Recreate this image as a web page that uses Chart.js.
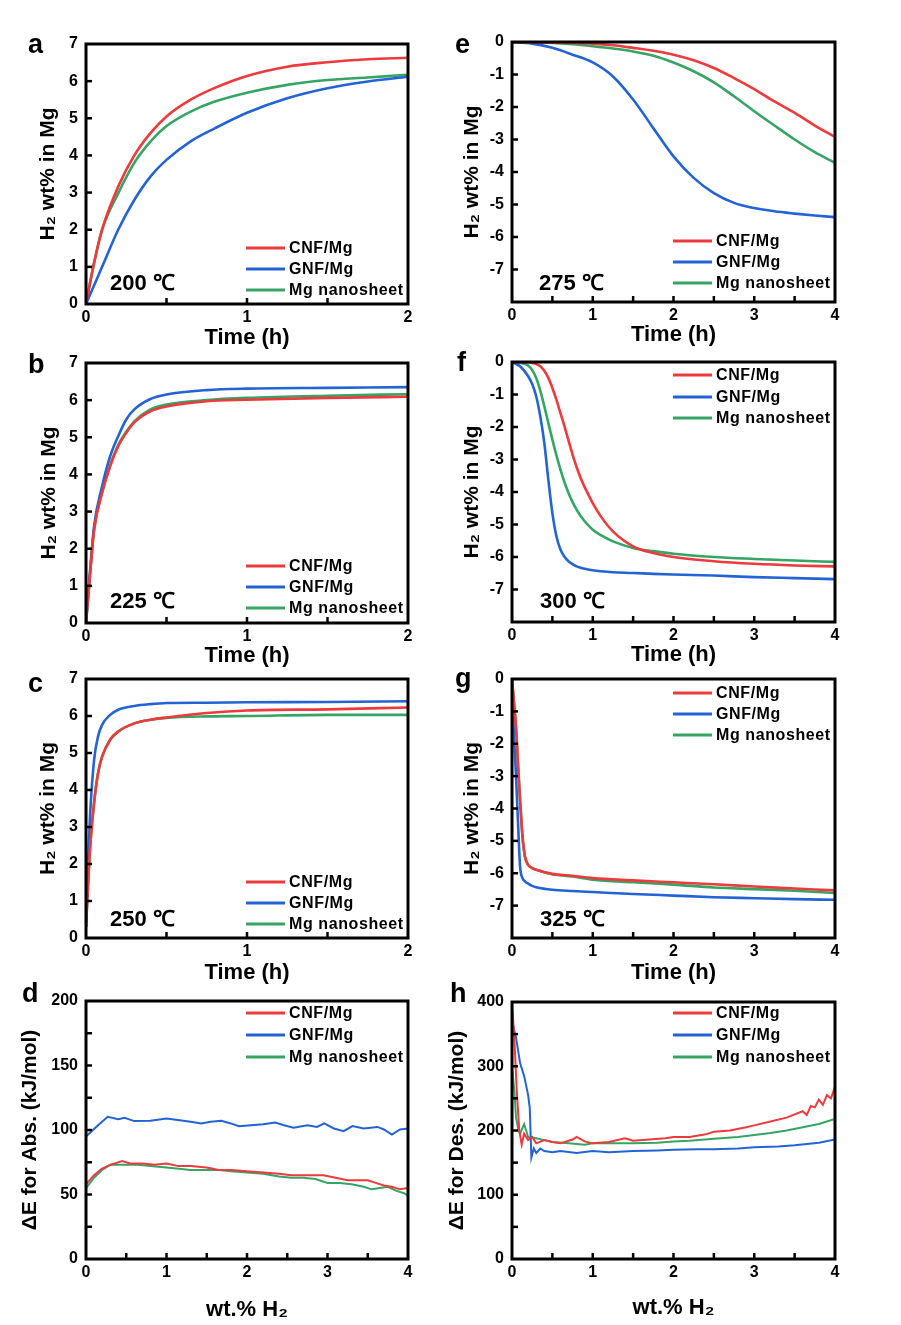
<!DOCTYPE html>
<html><head><meta charset="utf-8">
<script src="https://cdn.jsdelivr.net/npm/chart.js@4.4.0/dist/chart.umd.min.js"></script>
<style>
html,body{margin:0;padding:0;background:#fff;}
body{width:901px;height:1325px;position:relative;overflow:hidden;}
canvas{position:absolute;}
</style></head><body>
<script>
// ---------- series names / colours ----------
const seriesNames = ['CNF/Mg', 'GNF/Mg', 'Mg nanosheet'];
const seriesColors = ['#EC3A3D', '#2363D3', '#35A465'];

// ---------- (a) 200 °C absorption ----------
const aTime = [0, 0.05, 0.1, 0.2, 0.3, 0.4, 0.5, 0.65, 0.8, 1.0, 1.25, 1.5, 1.75, 2.0];
const aCNF  = [0, 1.1, 2.0, 3.16, 4.0, 4.6, 5.05, 5.5, 5.82, 6.14, 6.39, 6.51, 6.59, 6.63];
const aGNF  = [0, 0.5, 1.0, 2.0, 2.8, 3.43, 3.88, 4.38, 4.73, 5.15, 5.54, 5.81, 5.99, 6.12];
const aMg   = [0, 1.1, 2.0, 2.98, 3.8, 4.37, 4.79, 5.18, 5.45, 5.69, 5.9, 6.03, 6.1, 6.17];

// ---------- (b) 225 °C absorption ----------
const bTime = [0, 0.025, 0.05, 0.1, 0.15, 0.2, 0.25, 0.3, 0.4, 0.5, 0.75, 1.0, 1.5, 2.0];
const bCNF  = [0, 1.3, 2.5, 3.5, 4.22, 4.76, 5.12, 5.4, 5.7, 5.83, 5.97, 6.01, 6.06, 6.09];
const bGNF  = [0, 1.4, 2.6, 3.68, 4.49, 5.03, 5.48, 5.75, 6.03, 6.15, 6.27, 6.31, 6.33, 6.35];
const bMg   = [0, 1.3, 2.5, 3.52, 4.25, 4.79, 5.15, 5.43, 5.75, 5.88, 6.0, 6.06, 6.12, 6.16];

// ---------- (c) 250 °C absorption ----------
const cTime = [0, 0.0125, 0.025, 0.05, 0.075, 0.1, 0.15, 0.2, 0.3, 0.4, 0.5, 0.75, 1.0, 1.5, 2.0];
const cCNF  = [0.3, 1.4, 2.4, 3.64, 4.46, 4.9, 5.36, 5.58, 5.8, 5.9, 5.96, 6.08, 6.15, 6.18, 6.23];
const cGNF  = [0.3, 2.0, 3.3, 4.8, 5.45, 5.76, 6.03, 6.17, 6.27, 6.32, 6.35, 6.36, 6.37, 6.38, 6.4];
const cMg   = [0.3, 1.4, 2.4, 3.64, 4.46, 4.9, 5.36, 5.58, 5.8, 5.9, 5.95, 5.99, 6.0, 6.03, 6.03];

// ---------- (d) activation energy, absorption ----------
const dCNFx = [0, 0.1, 0.2, 0.3, 0.45, 0.55, 0.7, 0.85, 1.0, 1.15, 1.3, 1.5, 1.65, 1.8, 2.0, 2.2, 2.4, 2.55, 2.7, 2.85, 2.95, 3.1, 3.25, 3.4, 3.5, 3.6, 3.7, 3.8, 3.9, 4.0];
const dCNFy = [58, 65, 70, 73, 76, 74, 74, 73, 74, 72, 72, 71, 69, 69, 68, 67, 66, 65, 65, 65, 65, 63, 61, 61, 61, 59, 57, 56, 54, 55];
const dGNFx = [0, 0.15, 0.27, 0.4, 0.48, 0.6, 0.8, 1.0, 1.14, 1.3, 1.43, 1.55, 1.68, 1.8, 1.9, 2.05, 2.2, 2.35, 2.46, 2.58, 2.75, 2.87, 2.96, 3.08, 3.2, 3.31, 3.45, 3.62, 3.7, 3.8, 3.9, 4.0];
const dGNFy = [95, 103.7, 110.2, 108.4, 109.5, 106.9, 107.2, 109, 107.7, 106.4, 105.1, 106.4, 107.2, 105.1, 103, 103.7, 104.5, 105.8, 103.7, 101.7, 103.7, 102.4, 105.1, 101.2, 99.1, 103, 101.2, 102.4, 100.4, 96.5, 100.4, 101.2];
const dMgx  = [0, 0.1, 0.2, 0.3, 0.4, 0.5, 0.65, 0.8, 1.0, 1.15, 1.3, 1.5, 1.65, 1.8, 2.0, 2.2, 2.4, 2.55, 2.7, 2.85, 3.0, 3.15, 3.3, 3.45, 3.55, 3.65, 3.75, 3.85, 3.95, 4.0];
const dMgy  = [55, 63, 69, 73, 73, 73, 73, 72, 71, 70, 69, 69, 69, 68, 67, 66, 64, 63, 63, 62, 59, 59, 58, 56, 54, 55, 56, 53, 51, 49];

// ---------- (e) 275 °C desorption ----------
const eTime = [0, 0.25, 0.5, 0.75, 1.0, 1.25, 1.5, 1.75, 2.0, 2.25, 2.5, 2.75, 3.0, 3.25, 3.5, 3.75, 4.0];
const eCNF  = [0, -0.01, -0.02, -0.03, -0.05, -0.1, -0.18, -0.27, -0.39, -0.56, -0.8, -1.11, -1.45, -1.83, -2.18, -2.57, -2.92];
const eGNF  = [0, -0.05, -0.18, -0.39, -0.63, -1.06, -1.77, -2.65, -3.52, -4.18, -4.65, -4.95, -5.11, -5.21, -5.28, -5.34, -5.39];
const eMg   = [0, -0.01, -0.03, -0.07, -0.13, -0.2, -0.29, -0.42, -0.63, -0.9, -1.24, -1.67, -2.13, -2.57, -3.0, -3.39, -3.72];

// ---------- (f) 300 °C desorption ----------
const fTime = [0, 0.1, 0.2, 0.25, 0.3, 0.35, 0.4, 0.45, 0.5, 0.55, 0.6, 0.65, 0.7, 0.75, 0.8, 0.85, 0.9, 1.0, 1.1, 1.25, 1.5, 1.75, 2.0, 2.5, 3.0, 3.5, 4.0];
const fCNF  = [0, 0, -0.01, -0.03, -0.06, -0.13, -0.27, -0.49, -0.8, -1.16, -1.57, -1.98, -2.42, -2.85, -3.23, -3.57, -3.85, -4.34, -4.75, -5.21, -5.67, -5.88, -6.0, -6.13, -6.21, -6.26, -6.29];
const fGNF  = [0, -0.13, -0.44, -0.68, -1.06, -1.67, -2.49, -3.62, -4.65, -5.36, -5.77, -5.99, -6.13, -6.22, -6.29, -6.33, -6.36, -6.41, -6.44, -6.47, -6.49, -6.52, -6.54, -6.57, -6.62, -6.65, -6.68];
const fMg   = [0, -0.02, -0.11, -0.25, -0.49, -0.88, -1.36, -1.88, -2.39, -2.87, -3.31, -3.7, -4.03, -4.31, -4.54, -4.74, -4.9, -5.16, -5.33, -5.52, -5.72, -5.82, -5.9, -6.0, -6.06, -6.11, -6.15];

// ---------- (g) 325 °C desorption ----------
const gTime = [0, 0.02, 0.05, 0.08, 0.1, 0.13, 0.16, 0.2, 0.25, 0.3, 0.5, 0.75, 1.0, 1.5, 2.0, 2.5, 3.0, 3.5, 4.0];
const gCNF  = [0, -0.6, -1.5, -2.9, -3.73, -4.86, -5.48, -5.74, -5.84, -5.89, -6.02, -6.08, -6.15, -6.22, -6.28, -6.34, -6.41, -6.47, -6.53];
const gGNF  = [0, -1.5, -3.0, -4.76, -5.79, -6.15, -6.25, -6.32, -6.39, -6.43, -6.51, -6.55, -6.58, -6.64, -6.69, -6.74, -6.77, -6.8, -6.82];
const gMg   = [0, -0.6, -1.5, -2.9, -3.73, -4.86, -5.48, -5.74, -5.84, -5.89, -6.03, -6.1, -6.2, -6.28, -6.35, -6.44, -6.49, -6.54, -6.61];

// ---------- (h) activation energy, desorption ----------
const hCNFx = [0, 0.03, 0.06, 0.09, 0.12, 0.15, 0.2, 0.25, 0.3, 0.4, 0.5, 0.6, 0.75, 0.8, 0.9, 1.0, 1.2, 1.4, 1.5, 1.7, 1.9, 2.0, 2.2, 2.4, 2.5, 2.7, 2.9, 3.0, 3.2, 3.4, 3.5, 3.6, 3.65, 3.7, 3.75, 3.8, 3.85, 3.9, 3.95, 4.0];
const hCNFy = [400, 340, 260, 200, 178, 195, 185, 190, 180, 185, 182, 180, 186, 190, 183, 180, 182, 188, 184, 186, 188, 190, 190, 194, 198, 200, 205, 208, 214, 220, 225, 230, 224, 238, 236, 248, 240, 255, 250, 268];
const hGNFx = [0, 0.05, 0.1, 0.15, 0.2, 0.22, 0.24, 0.27, 0.3, 0.35, 0.4, 0.5, 0.6, 0.8, 1.0, 1.2, 1.5, 1.8, 2.0, 2.3, 2.5, 2.8, 3.0, 3.3, 3.5, 3.8, 4.0];
const hGNFy = [370, 345, 305, 285, 255, 235, 158, 172, 165, 172, 168, 166, 168, 165, 168, 166, 168, 169, 170, 171, 171, 172, 174, 175, 177, 181, 186];
const hMgx  = [0, 0.03, 0.05, 0.08, 0.1, 0.15, 0.2, 0.3, 0.4, 0.5, 0.7, 0.9, 1.0, 1.2, 1.5, 1.8, 2.0, 2.2, 2.5, 2.8, 3.0, 3.2, 3.4, 3.6, 3.8, 4.0];
const hMgy  = [300, 260, 220, 200, 195, 210, 190, 188, 185, 182, 180, 178, 180, 180, 180, 181, 183, 184, 187, 190, 193, 196, 200, 205, 210, 218];

// ---------- axis / label text ----------
const yTitleWt = 'H\u2082 wt% in Mg';
const xTitleTime = 'Time (h)';
const yTitleAbs = '\u0394E for Abs. (kJ/mol)';
const yTitleDes = '\u0394E for Des. (kJ/mol)';
const xTitleWt = 'wt.% H\u2082';
const tempLabels = ['200 \u2103', '225 \u2103', '250 \u2103', '275 \u2103', '300 \u2103', '325 \u2103'];

Chart.defaults.font.family = "'Liberation Sans', Arial, sans-serif";
Chart.defaults.color = '#000';

const zip = (xs, ys) => xs.map((v, i) => ({x: v, y: ys[i]}));

const panels = [
  {id:'a', col:0, plot:[86,44,408,304], xmax:2, ymin:0, ymax:7, yStep:1, yTick:1, series:[zip(aTime,aCNF),zip(aTime,aGNF),zip(aTime,aMg)],
   legend:'bottom', legOff:[-56,-35,-14], temp:tempLabels[0], tempDY:-14, tempDX:24, yTitle:yTitleWt, yTitleX:48, xTitle:xTitleTime, xTitleDY:34, letter:'a', lx:28, ly:53, smooth:true},
  {id:'b', col:0, plot:[86,363,408,623], xmax:2, ymin:0, ymax:7, yStep:1, yTick:1, series:[zip(bTime,bCNF),zip(bTime,bGNF),zip(bTime,bMg)],
   legend:'bottom', legOff:[-57,-36,-15], temp:tempLabels[1], tempDY:-15, tempDX:24, yTitle:yTitleWt, yTitleX:49, xTitle:xTitleTime, xTitleDY:33, letter:'b', lx:28, ly:373, smooth:true},
  {id:'c', col:0, plot:[86,679,408,938], xmax:2, ymin:0, ymax:7, yStep:1, yTick:1, series:[zip(cTime,cCNF),zip(cTime,cGNF),zip(cTime,cMg)],
   legend:'bottom', legOff:[-56,-35,-14], temp:tempLabels[2], tempDY:-12, tempDX:24, yTitle:yTitleWt, yTitleX:48, xTitle:xTitleTime, xTitleDY:35, letter:'c', lx:28, ly:692, smooth:true},
  {id:'d', col:0, plot:[86,1001,408,1259], xmax:4, ymin:0, ymax:200, yStep:50, yTick:25, series:[zip(dCNFx,dCNFy),zip(dGNFx,dGNFy),zip(dMgx,dMgy)],
   legend:'top', legOff:[12,34,56], temp:null, yTitle:yTitleAbs, yTitleX:30, xTitle:xTitleWt, xTitleDY:51, letter:'d', lx:22, ly:1002, smooth:false},
  {id:'e', col:1, plot:[512,42,835,302], xmax:4, ymin:-8, ymax:0, yStep:1, yTick:1, series:[zip(eTime,eCNF),zip(eTime,eGNF),zip(eTime,eMg)],
   legend:'bottom', legOff:[-61,-40,-19], temp:tempLabels[3], tempDY:-12, tempDX:27, yTitle:yTitleWt, yTitleX:472, xTitle:xTitleTime, xTitleDY:33, letter:'e', lx:455, ly:53, smooth:true},
  {id:'f', col:1, plot:[512,362,835,622], xmax:4, ymin:-8, ymax:0, yStep:1, yTick:1, series:[zip(fTime,fCNF),zip(fTime,fGNF),zip(fTime,fMg)],
   legend:'top', legOff:[13,35,56], temp:tempLabels[4], tempDY:-14, tempDX:28, yTitle:yTitleWt, yTitleX:472, xTitle:xTitleTime, xTitleDY:33, letter:'f', lx:457, ly:371, smooth:true},
  {id:'g', col:1, plot:[512,679,835,938], xmax:4, ymin:-8, ymax:0, yStep:1, yTick:1, series:[zip(gTime,gCNF),zip(gTime,gGNF),zip(gTime,gMg)],
   legend:'top', legOff:[14,35,56], temp:tempLabels[5], tempDY:-12, tempDX:28, yTitle:yTitleWt, yTitleX:472, xTitle:xTitleTime, xTitleDY:35, letter:'g', lx:455, ly:687, smooth:true},
  {id:'h', col:1, plot:[512,1002,835,1259], xmax:4, ymin:0, ymax:400, yStep:100, yTick:50, series:[zip(hCNFx,hCNFy),zip(hGNFx,hGNFy),zip(hMgx,hMgy)],
   legend:'top', legOff:[11,33,55], temp:null, yTitle:yTitleDes, yTitleX:457.5, xTitle:xTitleWt, xTitleDY:49, letter:'h', lx:450, ly:1002, smooth:false},
];

function makeDecor(p, cx, cy) {
  return {
    id: 'decor',
    afterDatasetsDraw(chart) {
      const {ctx, chartArea: a, scales: {x, y}} = chart;
      ctx.save();
      ctx.strokeStyle = '#000';
      ctx.lineCap = 'butt';
      ctx.lineWidth = 2.5;
      const tick = (x0, y0, x1, y1) => { ctx.beginPath(); ctx.moveTo(x0, y0); ctx.lineTo(x1, y1); ctx.stroke(); };
      const nY = Math.round((p.ymax - p.ymin) / p.yTick);
      for (let i = 1; i < nY; i++) {
        const py = y.getPixelForValue(p.ymin + i * p.yTick);
        tick(a.left, py, a.left + 6, py);
      }
      const nX = Math.round(p.xmax / 0.5);
      for (let i = 1; i < nX; i++) {
        const px = x.getPixelForValue(i * 0.5);
        tick(px, a.bottom, px, a.bottom - 6);
      }
      ctx.lineWidth = 3;
      ctx.strokeRect(a.left, a.top, a.right - a.left, a.bottom - a.top);

      // legend
      ctx.font = "bold 16px 'Liberation Sans', Arial, sans-serif";
      try { ctx.letterSpacing = '0.6px'; } catch (e) {}
      ctx.textBaseline = 'middle';
      ctx.textAlign = 'left';
      chart.data.datasets.forEach((ds, i) => {
        const ly = (p.legend === 'top' ? a.top : a.bottom) + p.legOff[i];
        ctx.strokeStyle = ds.borderColor;
        ctx.lineWidth = 3;
        tick(a.right - 162, ly, a.right - 123, ly);
        ctx.fillStyle = '#000';
        ctx.fillText(ds.label, a.right - 119, ly + 1);
      });
      try { ctx.letterSpacing = '0px'; } catch (e) {}

      // temperature
      if (p.temp) {
        ctx.font = "bold 22px 'Liberation Sans', Arial, sans-serif";
        ctx.textBaseline = 'alphabetic';
        ctx.fillStyle = '#000';
        ctx.fillText(p.temp, a.left + p.tempDX, a.bottom + p.tempDY);
      }
      // panel letter
      ctx.font = "bold 27px 'Liberation Sans', Arial, sans-serif";
      ctx.textBaseline = 'alphabetic';
      ctx.fillText(p.letter, p.lx - cx, p.ly - cy);
      ctx.restore();
    }
  };
}

panels.forEach(p => {
  const [pl, pt, pr, pb] = p.plot;
  const cx = p.col === 0 ? 0 : 440;
  const topPad = 40;
  const Hx = p.temp ? 62 : 72;
  const cy = pt - topPad;
  const cw = pr + 14 - cx;
  const ch = pb + Hx - cy;
  const Wy = pl - cx;
  const cv = document.createElement('canvas');
  cv.width = cw; cv.height = ch;
  cv.style.left = cx + 'px'; cv.style.top = cy + 'px';
  cv.style.width = cw + 'px'; cv.style.height = ch + 'px';
  document.body.appendChild(cv);
  const lw = p.smooth ? 2.6 : 2;
  new Chart(cv, {
    type: 'line',
    data: {
      datasets: p.series.map((s, i) => ({
        label: seriesNames[i], data: s, borderColor: seriesColors[i], backgroundColor: seriesColors[i],
        borderWidth: lw, pointRadius: 0, fill: false,
        cubicInterpolationMode: p.smooth ? 'monotone' : 'default', tension: 0
      }))
    },
    options: {
      responsive: false, animation: false, devicePixelRatio: 1,
      layout: {padding: {top: topPad, right: 14, left: 0, bottom: 0}},
      plugins: {legend: {display: false}, tooltip: {enabled: false}},
      scales: {
        x: {
          type: 'linear', min: 0, max: p.xmax,
          afterFit: s => { s.height = Hx; },
          grid: {display: false, drawTicks: false}, border: {display: false},
          ticks: {stepSize: 1, padding: 4, autoSkip: false, maxRotation: 0, color: '#000', font: {size: 16, weight: 'bold'}},
          title: {display: true, text: p.xTitle, color: '#000', font: {size: 22, weight: 'bold'}, padding: {top: 0, bottom: Hx - p.xTitleDY - 13.2}}
        },
        y: {
          type: 'linear', min: p.ymin, max: p.ymax,
          afterFit: s => { s.width = Wy; },
          grid: {display: false, drawTicks: false}, border: {display: false},
          ticks: {stepSize: p.yStep, padding: 8, autoSkip: false, color: '#000', font: {size: 16, weight: 'bold'},
                  callback: v => (p.ymin < 0 && v === p.ymin) ? '' : String(v)},
          title: {display: true, text: p.yTitle, color: '#000', font: {size: 21, weight: 'bold'}, padding: {top: p.yTitleX - cx - 12.6, bottom: 0}}
        }
      }
    },
    plugins: [makeDecor(p, cx, cy)]
  });
});
</script>
</body></html>
